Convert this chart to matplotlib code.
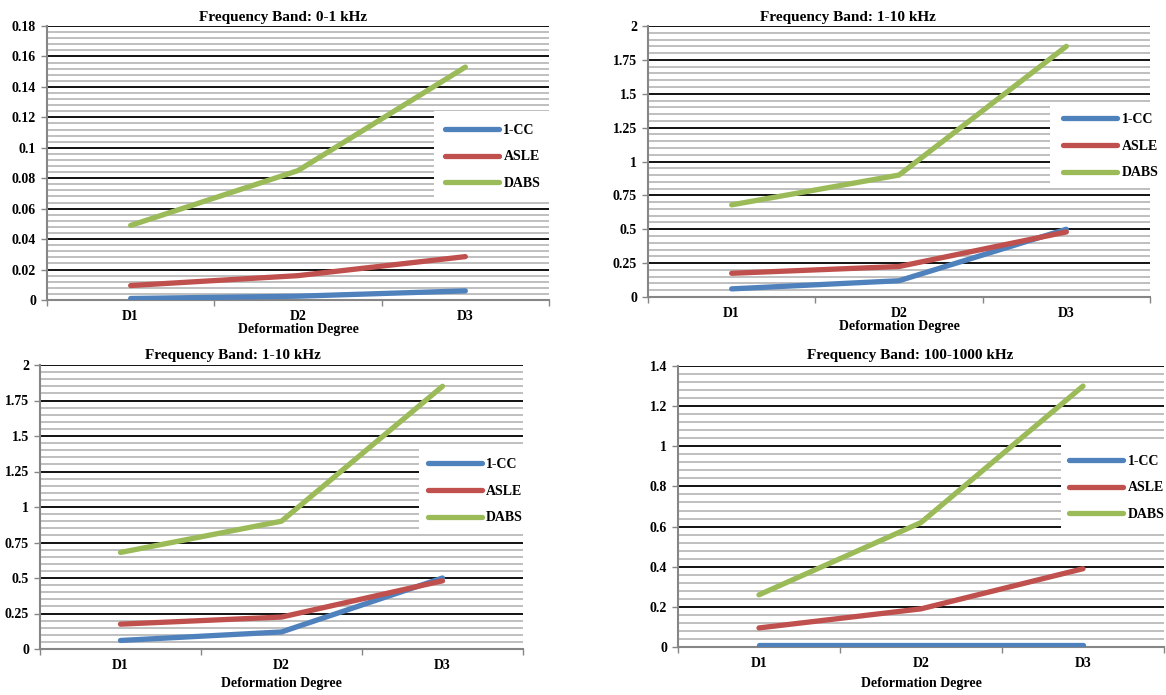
import matplotlib
matplotlib.use("Agg")
import matplotlib.pyplot as plt
from matplotlib.ticker import FixedLocator, MultipleLocator, NullFormatter
from matplotlib.patches import Rectangle

plt.rcParams['font.family'] = ['Liberation Serif', 'DejaVu Serif']
plt.rcParams['font.weight'] = 'bold'

categories = ["D1", "D2", "D3"]
series_names = ["1-CC", "ASLE", "DABS"]
colors = ["#4F81BD", "#C0504D", "#9BBB59"]

titles = ["Frequency Band: 0-1 kHz", "Frequency Band: 1-10 kHz",
          "Frequency Band: 1-10 kHz", "Frequency Band: 100-1000 kHz"]

p1_cc = [0.001, 0.0025, 0.006]
p1_asle = [0.0095, 0.016, 0.0285]
p1_dabs = [0.049, 0.085, 0.153]

p2_cc = [0.06, 0.12, 0.50]
p2_asle = [0.175, 0.225, 0.48]
p2_dabs = [0.68, 0.90, 1.85]

p3_cc = [0.06, 0.12, 0.50]
p3_asle = [0.175, 0.225, 0.48]
p3_dabs = [0.68, 0.90, 1.85]

p4_cc = [0.01, 0.01, 0.01]
p4_asle = [0.095, 0.19, 0.39]
p4_dabs = [0.26, 0.62, 1.30]

yticks1 = ["0", "0.02", "0.04", "0.06", "0.08", "0.1", "0.12", "0.14", "0.16", "0.18"]
yticks2 = ["0", "0.25", "0.5", "0.75", "1", "1.25", "1.5", "1.75", "2"]
yticks3 = ["0", "0.25", "0.5", "0.75", "1", "1.25", "1.5", "1.75", "2"]
yticks4 = ["0", "0.2", "0.4", "0.6", "0.8", "1", "1.2", "1.4"]

xlabel = "Deformation Degree"

W, H = 1166, 695
fig = plt.figure(figsize=(W / 100, H / 100), dpi=100)

def px_axes(x0, y0, x1, y1):
    return [x0 / W, 1 - y1 / H, (x1 - x0) / W, (y1 - y0) / H]

panels = [
    dict(rect=px_axes(47, 26, 549, 300), data=[p1_cc, p1_asle, p1_dabs], ticks=yticks1,
         major=0.02, minor=0.004, ymax=0.18, title=titles[0], tpos=(283, 17),
         box=(0.771, 0.369, 0.229, 0.321), leg=(0.793, 0.522), lp=0),
    dict(rect=px_axes(648, 26, 1150, 297), data=[p2_cc, p2_asle, p2_dabs], ticks=yticks2,
         major=0.25, minor=0.05, ymax=2.0, title=titles[1], tpos=(848, 17),
         box=(0.80, 0.402, 0.20, 0.306), leg=(0.827, 0.557), lp=0),
    dict(rect=px_axes(40, 365, 523, 649), data=[p3_cc, p3_asle, p3_dabs], ticks=yticks3,
         major=0.25, minor=0.05, ymax=2.0, title=titles[2], tpos=(233, 355),
         box=(0.785, 0.412, 0.215, 0.299), leg=(0.803, 0.556), lp=4),
    dict(rect=px_axes(678, 366, 1164, 647), data=[p4_cc, p4_asle, p4_dabs], ticks=yticks4,
         major=0.2, minor=0.04, ymax=1.4, title=titles[3], tpos=(910, 355),
         box=(0.788, 0.416, 0.212, 0.31), leg=(0.805, 0.566), lp=5),
]

x = list(range(len(categories)))
for p in panels:
    ax = fig.add_axes(p["rect"])
    ax.set_axisbelow(True)
    for vals, name, c in zip(p["data"], series_names, colors):
        ax.plot(x, vals, color=c, lw=3.8, label=name, solid_capstyle='round',
                solid_joinstyle='round', zorder=3)
    ax.set_xlim(-0.5, len(categories) - 0.5)
    ax.set_ylim(0, p["ymax"])
    ax.xaxis.set_major_locator(FixedLocator([i - 0.5 for i in range(len(categories) + 1)]))
    ax.xaxis.set_major_formatter(NullFormatter())
    ax.xaxis.set_minor_locator(FixedLocator(x))
    ax.set_xticklabels(categories, minor=True)
    ax.tick_params(axis='x', which='major', length=4, width=1, color='#868686', direction='out')
    ax.tick_params(axis='x', which='minor', length=0, pad=7, labelsize=10)
    yt = [i * p["major"] for i in range(len(p["ticks"]))]
    ax.set_yticks(yt)
    ax.set_yticklabels(p["ticks"])
    ax.yaxis.set_minor_locator(MultipleLocator(p["minor"]))
    ax.tick_params(axis='y', which='major', length=4, width=1, color='#868686',
                   labelsize=10, pad=4)
    ax.tick_params(axis='y', which='minor', length=0)
    ax.grid(axis='y', which='minor', color='#BFBFBF', lw=1.4)
    ax.grid(axis='y', which='major', color='black', lw=1.3)
    for s in ['top', 'right']:
        ax.spines[s].set_visible(False)
    for s in ['left', 'bottom']:
        ax.spines[s].set_color('#868686')
        ax.spines[s].set_linewidth(1.5)
    ax.set_xlabel(xlabel, fontsize=10, fontweight='bold', labelpad=p["lp"])
    bx = p["box"]
    ax.add_patch(Rectangle((bx[0], bx[1]), bx[2], bx[3], transform=ax.transAxes,
                           facecolor='white', edgecolor='none', zorder=1))
    ax.legend(loc='center left', bbox_to_anchor=p["leg"], frameon=False, fontsize=10,
              handlelength=3.9, handletextpad=0.3, labelspacing=1.0, borderpad=0,
              borderaxespad=0)
    fig.text(p["tpos"][0] / W, 1 - p["tpos"][1] / H, p["title"], ha='center', va='center',
             fontsize=11, fontweight='bold')

fig.savefig("out.png", dpi=100)
